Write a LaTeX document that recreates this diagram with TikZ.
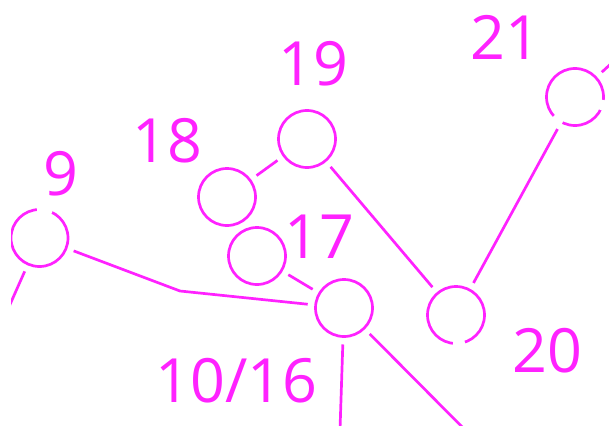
\documentclass[tikz,border=0pt]{standalone}
\usepackage{fontspec}
\setmainfont{Open Sans}
\definecolor{graphpink}{HTML}{FF22FF}

\begin{document}
\begin{tikzpicture}[x=1pt, y=-1pt, line width=2.7pt, graphpink,
    hub/.style={circle, draw, minimum size=57pt, inner sep=0pt, outer sep=0pt},
    num/.style={anchor=base, inner sep=0pt, font=\fontsize{61}{68}\selectfont},
    edge/.style={shorten <=8pt, shorten >=8pt},
    gap/.style={white, line width=4.5pt}]
      \useasboundingbox (0, 0) rectangle (609, 425);
      \clip (11, 0) rectangle (609, 425);

      \node[hub] (n9) at (39.5, 238) {};
      \node[hub] (n18) at (227, 197) {};
      \node[hub] (n19) at (307, 139) {};
      \node[hub] (n17) at (257, 256) {};
      \node[hub] (n1016) at (344, 308) {};
      \node[hub] (n20) at (456, 315) {};
      \node[hub] (n21) at (575, 97) {};

      \node[num] (l9) at (61, 195) {9};
      \node[num] (l18) at (167.5, 162) {18};
      \node[num] (l19) at (313, 85) {19};
      \node[num] (l17) at (319, 258) {17};
      \node[num] (l1016) at (236.5, 402) {10/16};
      \node[num] (l20) at (547.5, 372) {20};
      \node[num] (l21) at (505.5, 60) {21};

      % bend and loose ends
      \coordinate (b9) at (180, 291);
      \coordinate (o9) at (-15.5, 362);
      \coordinate (o21) at (629, 47);
      \coordinate (o1) at (339.5, 445);
      \coordinate (o2) at (484, 449);

      \draw[edge] (n9) -- (b9) -- (n1016);
      \draw[edge] (n18) -- (n19);
      \draw[edge] (n17) -- (n1016);
      \draw[edge] (n19) -- (n20);
      \draw[edge] (n20) -- (n21);
      \draw[shorten <=8pt] (n9) -- (o9);
      \draw[shorten <=8pt] (n21) -- (o21);
      \draw[shorten <=8pt] (n1016) -- (o1);
      \draw[shorten <=8pt] (n1016) -- (o2);

      % breaks in the rings
      \draw[gap] (n9.center) ++(64:28.5pt) arc[start angle=64, end angle=95, radius=28.5pt];
      \draw[gap] (n20.center) ++(-96:28.5pt) arc[start angle=-96, end angle=-72, radius=28.5pt];
      \draw[gap] (n21.center) ++(222:28.5pt) arc[start angle=222, end angle=244, radius=28.5pt];
      \draw[gap] (n21.center) ++(-27:28.5pt) arc[start angle=-27, end angle=-6, radius=28.5pt];
    \end{tikzpicture}
\end{document}
